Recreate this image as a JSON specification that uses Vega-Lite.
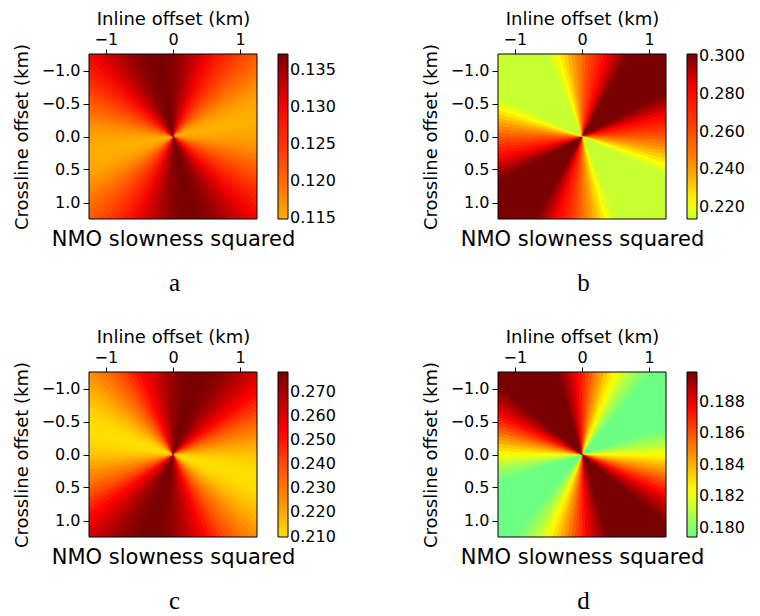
{
"$schema":"https://vega.github.io/schema/vega-lite/v6.json",
"background":"white",
"padding":{"left":13,"top":10,"right":0,"bottom":0},
"config":{
 "view":{"stroke":null},
 "font":"DejaVu Sans",
 "axis":{"grid":false,"domain":false,"labelFont":"DejaVu Sans","titleFont":"DejaVu Sans","labelColor":"black","titleColor":"black","tickColor":"black","titleFontWeight":"normal","labelFontSize":16,"titleFontSize":18},
 "legend":{"gradientLength":165,"gradientThickness":10,"gradientStrokeColor":"black","gradientStrokeWidth":1,"labelFont":"DejaVu Sans","labelFontSize":16,"labelOffset":6,"offset":21,"padding":0,"labelColor":"black","labelOverlap":false},
 "title":{"font":"Liberation Serif","fontSize":25,"fontWeight":"normal","color":"black","anchor":"middle","frame":"bounds","orient":"bottom","offset":22}
},
"datasets":{
"a":[
{"az":0,"az2":2.5,"v":0.1361},{"az":2.5,"az2":5,"v":0.1356},{"az":5,"az2":7.5,"v":0.1351},{"az":7.5,"az2":10,"v":0.1345},{"az":10,"az2":12.5,"v":0.1338},{"az":12.5,"az2":15,"v":0.1331},{"az":15,"az2":17.5,"v":0.1324},{"az":17.5,"az2":20,"v":0.1316},{"az":20,"az2":22.5,"v":0.1307},{"az":22.5,"az2":25,"v":0.1298},{"az":25,"az2":27.5,"v":0.1289},{"az":27.5,"az2":30,"v":0.1279},{"az":30,"az2":32.5,"v":0.1270},{"az":32.5,"az2":35,"v":0.1260},{"az":35,"az2":37.5,"v":0.1250},{"az":37.5,"az2":40,"v":0.1241},{"az":40,"az2":42.5,"v":0.1231},{"az":42.5,"az2":45,"v":0.1222},{"az":45,"az2":47.5,"v":0.1213},{"az":47.5,"az2":50,"v":0.1205},{"az":50,"az2":52.5,"v":0.1196},{"az":52.5,"az2":55,"v":0.1189},{"az":55,"az2":57.5,"v":0.1182},{"az":57.5,"az2":60,"v":0.1175},{"az":60,"az2":62.5,"v":0.1169},{"az":62.5,"az2":65,"v":0.1164},{"az":65,"az2":67.5,"v":0.1159},{"az":67.5,"az2":70,"v":0.1156},{"az":70,"az2":72.5,"v":0.1153},{"az":72.5,"az2":75,"v":0.1151},{"az":75,"az2":77.5,"v":0.1149},{"az":77.5,"az2":80,"v":0.1149},{"az":80,"az2":82.5,"v":0.1149},{"az":82.5,"az2":85,"v":0.1151},{"az":85,"az2":87.5,"v":0.1153},{"az":87.5,"az2":90,"v":0.1156},{"az":90,"az2":92.5,"v":0.1159},{"az":92.5,"az2":95,"v":0.1164},{"az":95,"az2":97.5,"v":0.1169},{"az":97.5,"az2":100,"v":0.1175},{"az":100,"az2":102.5,"v":0.1182},{"az":102.5,"az2":105,"v":0.1189},{"az":105,"az2":107.5,"v":0.1196},{"az":107.5,"az2":110,"v":0.1205},{"az":110,"az2":112.5,"v":0.1213},{"az":112.5,"az2":115,"v":0.1222},{"az":115,"az2":117.5,"v":0.1231},{"az":117.5,"az2":120,"v":0.1241},{"az":120,"az2":122.5,"v":0.1250},{"az":122.5,"az2":125,"v":0.1260},{"az":125,"az2":127.5,"v":0.1270},{"az":127.5,"az2":130,"v":0.1279},{"az":130,"az2":132.5,"v":0.1289},{"az":132.5,"az2":135,"v":0.1298},{"az":135,"az2":137.5,"v":0.1307},{"az":137.5,"az2":140,"v":0.1316},{"az":140,"az2":142.5,"v":0.1324},{"az":142.5,"az2":145,"v":0.1331},{"az":145,"az2":147.5,"v":0.1338},{"az":147.5,"az2":150,"v":0.1345},{"az":150,"az2":152.5,"v":0.1351},{"az":152.5,"az2":155,"v":0.1356},{"az":155,"az2":157.5,"v":0.1361},{"az":157.5,"az2":160,"v":0.1364},{"az":160,"az2":162.5,"v":0.1367},{"az":162.5,"az2":165,"v":0.1369},{"az":165,"az2":167.5,"v":0.1371},{"az":167.5,"az2":170,"v":0.1371},{"az":170,"az2":172.5,"v":0.1371},{"az":172.5,"az2":175,"v":0.1369},{"az":175,"az2":177.5,"v":0.1367},{"az":177.5,"az2":180,"v":0.1364},
{"az":180,"az2":182.5,"v":0.1361},{"az":182.5,"az2":185,"v":0.1356},{"az":185,"az2":187.5,"v":0.1351},{"az":187.5,"az2":190,"v":0.1345},{"az":190,"az2":192.5,"v":0.1338},{"az":192.5,"az2":195,"v":0.1331},{"az":195,"az2":197.5,"v":0.1324},{"az":197.5,"az2":200,"v":0.1316},{"az":200,"az2":202.5,"v":0.1307},{"az":202.5,"az2":205,"v":0.1298},{"az":205,"az2":207.5,"v":0.1289},{"az":207.5,"az2":210,"v":0.1279},{"az":210,"az2":212.5,"v":0.1270},{"az":212.5,"az2":215,"v":0.1260},{"az":215,"az2":217.5,"v":0.1250},{"az":217.5,"az2":220,"v":0.1241},{"az":220,"az2":222.5,"v":0.1231},{"az":222.5,"az2":225,"v":0.1222},{"az":225,"az2":227.5,"v":0.1213},{"az":227.5,"az2":230,"v":0.1205},{"az":230,"az2":232.5,"v":0.1196},{"az":232.5,"az2":235,"v":0.1189},{"az":235,"az2":237.5,"v":0.1182},{"az":237.5,"az2":240,"v":0.1175},{"az":240,"az2":242.5,"v":0.1169},{"az":242.5,"az2":245,"v":0.1164},{"az":245,"az2":247.5,"v":0.1159},{"az":247.5,"az2":250,"v":0.1156},{"az":250,"az2":252.5,"v":0.1153},{"az":252.5,"az2":255,"v":0.1151},{"az":255,"az2":257.5,"v":0.1149},{"az":257.5,"az2":260,"v":0.1149},{"az":260,"az2":262.5,"v":0.1149},{"az":262.5,"az2":265,"v":0.1151},{"az":265,"az2":267.5,"v":0.1153},{"az":267.5,"az2":270,"v":0.1156},{"az":270,"az2":272.5,"v":0.1159},{"az":272.5,"az2":275,"v":0.1164},{"az":275,"az2":277.5,"v":0.1169},{"az":277.5,"az2":280,"v":0.1175},{"az":280,"az2":282.5,"v":0.1182},{"az":282.5,"az2":285,"v":0.1189},{"az":285,"az2":287.5,"v":0.1196},{"az":287.5,"az2":290,"v":0.1205},{"az":290,"az2":292.5,"v":0.1213},{"az":292.5,"az2":295,"v":0.1222},{"az":295,"az2":297.5,"v":0.1231},{"az":297.5,"az2":300,"v":0.1241},{"az":300,"az2":302.5,"v":0.1250},{"az":302.5,"az2":305,"v":0.1260},{"az":305,"az2":307.5,"v":0.1270},{"az":307.5,"az2":310,"v":0.1279},{"az":310,"az2":312.5,"v":0.1289},{"az":312.5,"az2":315,"v":0.1298},{"az":315,"az2":317.5,"v":0.1307},{"az":317.5,"az2":320,"v":0.1316},{"az":320,"az2":322.5,"v":0.1324},{"az":322.5,"az2":325,"v":0.1331},{"az":325,"az2":327.5,"v":0.1338},{"az":327.5,"az2":330,"v":0.1345},{"az":330,"az2":332.5,"v":0.1351},{"az":332.5,"az2":335,"v":0.1356},{"az":335,"az2":337.5,"v":0.1361},{"az":337.5,"az2":340,"v":0.1364},{"az":340,"az2":342.5,"v":0.1367},{"az":342.5,"az2":345,"v":0.1369},{"az":345,"az2":347.5,"v":0.1371},{"az":347.5,"az2":350,"v":0.1371},{"az":350,"az2":352.5,"v":0.1371},{"az":352.5,"az2":355,"v":0.1369},{"az":355,"az2":357.5,"v":0.1367},{"az":357.5,"az2":360,"v":0.1364}
],
"b":[
{"az":0,"az2":2.5,"v":0.2543},{"az":2.5,"az2":5,"v":0.2591},{"az":5,"az2":7.5,"v":0.2638},{"az":7.5,"az2":10,"v":0.2685},{"az":10,"az2":12.5,"v":0.2731},{"az":12.5,"az2":15,"v":0.2775},{"az":15,"az2":17.5,"v":0.2818},{"az":17.5,"az2":20,"v":0.2858},{"az":20,"az2":22.5,"v":0.2896},{"az":22.5,"az2":25,"v":0.2931},{"az":25,"az2":27.5,"v":0.2964},{"az":27.5,"az2":30,"v":0.2993},{"az":30,"az2":32.5,"v":0.3013},{"az":32.5,"az2":35,"v":0.3013},{"az":35,"az2":37.5,"v":0.3013},{"az":37.5,"az2":40,"v":0.3013},{"az":40,"az2":42.5,"v":0.3013},{"az":42.5,"az2":45,"v":0.3013},{"az":45,"az2":47.5,"v":0.3013},{"az":47.5,"az2":50,"v":0.3013},{"az":50,"az2":52.5,"v":0.3013},{"az":52.5,"az2":55,"v":0.3013},{"az":55,"az2":57.5,"v":0.3013},{"az":57.5,"az2":60,"v":0.3013},{"az":60,"az2":62.5,"v":0.3013},{"az":62.5,"az2":65,"v":0.2993},{"az":65,"az2":67.5,"v":0.2964},{"az":67.5,"az2":70,"v":0.2931},{"az":70,"az2":72.5,"v":0.2896},{"az":72.5,"az2":75,"v":0.2858},{"az":75,"az2":77.5,"v":0.2818},{"az":77.5,"az2":80,"v":0.2775},{"az":80,"az2":82.5,"v":0.2731},{"az":82.5,"az2":85,"v":0.2685},{"az":85,"az2":87.5,"v":0.2638},{"az":87.5,"az2":90,"v":0.2591},{"az":90,"az2":92.5,"v":0.2543},{"az":92.5,"az2":95,"v":0.2495},{"az":95,"az2":97.5,"v":0.2448},{"az":97.5,"az2":100,"v":0.2401},{"az":100,"az2":102.5,"v":0.2355},{"az":102.5,"az2":105,"v":0.2311},{"az":105,"az2":107.5,"v":0.2269},{"az":107.5,"az2":110,"v":0.2228},{"az":110,"az2":112.5,"v":0.2190},{"az":112.5,"az2":115,"v":0.2155},{"az":115,"az2":117.5,"v":0.2137},{"az":117.5,"az2":120,"v":0.2137},{"az":120,"az2":122.5,"v":0.2137},{"az":122.5,"az2":125,"v":0.2137},{"az":125,"az2":127.5,"v":0.2137},{"az":127.5,"az2":130,"v":0.2137},{"az":130,"az2":132.5,"v":0.2137},{"az":132.5,"az2":135,"v":0.2137},{"az":135,"az2":137.5,"v":0.2137},{"az":137.5,"az2":140,"v":0.2137},{"az":140,"az2":142.5,"v":0.2137},{"az":142.5,"az2":145,"v":0.2137},{"az":145,"az2":147.5,"v":0.2137},{"az":147.5,"az2":150,"v":0.2137},{"az":150,"az2":152.5,"v":0.2137},{"az":152.5,"az2":155,"v":0.2137},{"az":155,"az2":157.5,"v":0.2137},{"az":157.5,"az2":160,"v":0.2155},{"az":160,"az2":162.5,"v":0.2190},{"az":162.5,"az2":165,"v":0.2228},{"az":165,"az2":167.5,"v":0.2269},{"az":167.5,"az2":170,"v":0.2311},{"az":170,"az2":172.5,"v":0.2355},{"az":172.5,"az2":175,"v":0.2401},{"az":175,"az2":177.5,"v":0.2448},{"az":177.5,"az2":180,"v":0.2495},
{"az":180,"az2":182.5,"v":0.2543},{"az":182.5,"az2":185,"v":0.2591},{"az":185,"az2":187.5,"v":0.2638},{"az":187.5,"az2":190,"v":0.2685},{"az":190,"az2":192.5,"v":0.2731},{"az":192.5,"az2":195,"v":0.2775},{"az":195,"az2":197.5,"v":0.2818},{"az":197.5,"az2":200,"v":0.2858},{"az":200,"az2":202.5,"v":0.2896},{"az":202.5,"az2":205,"v":0.2931},{"az":205,"az2":207.5,"v":0.2964},{"az":207.5,"az2":210,"v":0.2993},{"az":210,"az2":212.5,"v":0.3013},{"az":212.5,"az2":215,"v":0.3013},{"az":215,"az2":217.5,"v":0.3013},{"az":217.5,"az2":220,"v":0.3013},{"az":220,"az2":222.5,"v":0.3013},{"az":222.5,"az2":225,"v":0.3013},{"az":225,"az2":227.5,"v":0.3013},{"az":227.5,"az2":230,"v":0.3013},{"az":230,"az2":232.5,"v":0.3013},{"az":232.5,"az2":235,"v":0.3013},{"az":235,"az2":237.5,"v":0.3013},{"az":237.5,"az2":240,"v":0.3013},{"az":240,"az2":242.5,"v":0.3013},{"az":242.5,"az2":245,"v":0.2993},{"az":245,"az2":247.5,"v":0.2964},{"az":247.5,"az2":250,"v":0.2931},{"az":250,"az2":252.5,"v":0.2896},{"az":252.5,"az2":255,"v":0.2858},{"az":255,"az2":257.5,"v":0.2818},{"az":257.5,"az2":260,"v":0.2775},{"az":260,"az2":262.5,"v":0.2731},{"az":262.5,"az2":265,"v":0.2685},{"az":265,"az2":267.5,"v":0.2638},{"az":267.5,"az2":270,"v":0.2591},{"az":270,"az2":272.5,"v":0.2543},{"az":272.5,"az2":275,"v":0.2495},{"az":275,"az2":277.5,"v":0.2448},{"az":277.5,"az2":280,"v":0.2401},{"az":280,"az2":282.5,"v":0.2355},{"az":282.5,"az2":285,"v":0.2311},{"az":285,"az2":287.5,"v":0.2269},{"az":287.5,"az2":290,"v":0.2228},{"az":290,"az2":292.5,"v":0.2190},{"az":292.5,"az2":295,"v":0.2155},{"az":295,"az2":297.5,"v":0.2137},{"az":297.5,"az2":300,"v":0.2137},{"az":300,"az2":302.5,"v":0.2137},{"az":302.5,"az2":305,"v":0.2137},{"az":305,"az2":307.5,"v":0.2137},{"az":307.5,"az2":310,"v":0.2137},{"az":310,"az2":312.5,"v":0.2137},{"az":312.5,"az2":315,"v":0.2137},{"az":315,"az2":317.5,"v":0.2137},{"az":317.5,"az2":320,"v":0.2137},{"az":320,"az2":322.5,"v":0.2137},{"az":322.5,"az2":325,"v":0.2137},{"az":325,"az2":327.5,"v":0.2137},{"az":327.5,"az2":330,"v":0.2137},{"az":330,"az2":332.5,"v":0.2137},{"az":332.5,"az2":335,"v":0.2137},{"az":335,"az2":337.5,"v":0.2137},{"az":337.5,"az2":340,"v":0.2155},{"az":340,"az2":342.5,"v":0.2190},{"az":342.5,"az2":345,"v":0.2228},{"az":345,"az2":347.5,"v":0.2269},{"az":347.5,"az2":350,"v":0.2311},{"az":350,"az2":352.5,"v":0.2355},{"az":352.5,"az2":355,"v":0.2401},{"az":355,"az2":357.5,"v":0.2448},{"az":357.5,"az2":360,"v":0.2495}
],
"c":[
{"az":0,"az2":2.5,"v":0.2738},{"az":2.5,"az2":5,"v":0.2752},{"az":5,"az2":7.5,"v":0.2763},{"az":7.5,"az2":10,"v":0.2772},{"az":10,"az2":12.5,"v":0.2779},{"az":12.5,"az2":15,"v":0.2783},{"az":15,"az2":17.5,"v":0.2784},{"az":17.5,"az2":20,"v":0.2783},{"az":20,"az2":22.5,"v":0.2779},{"az":22.5,"az2":25,"v":0.2772},{"az":25,"az2":27.5,"v":0.2763},{"az":27.5,"az2":30,"v":0.2752},{"az":30,"az2":32.5,"v":0.2738},{"az":32.5,"az2":35,"v":0.2722},{"az":35,"az2":37.5,"v":0.2704},{"az":37.5,"az2":40,"v":0.2684},{"az":40,"az2":42.5,"v":0.2662},{"az":42.5,"az2":45,"v":0.2638},{"az":45,"az2":47.5,"v":0.2613},{"az":47.5,"az2":50,"v":0.2587},{"az":50,"az2":52.5,"v":0.2559},{"az":52.5,"az2":55,"v":0.2531},{"az":55,"az2":57.5,"v":0.2501},{"az":57.5,"az2":60,"v":0.2472},{"az":60,"az2":62.5,"v":0.2442},{"az":62.5,"az2":65,"v":0.2412},{"az":65,"az2":67.5,"v":0.2383},{"az":67.5,"az2":70,"v":0.2353},{"az":70,"az2":72.5,"v":0.2325},{"az":72.5,"az2":75,"v":0.2297},{"az":75,"az2":77.5,"v":0.2271},{"az":77.5,"az2":80,"v":0.2246},{"az":80,"az2":82.5,"v":0.2222},{"az":82.5,"az2":85,"v":0.2200},{"az":85,"az2":87.5,"v":0.2180},{"az":87.5,"az2":90,"v":0.2162},{"az":90,"az2":92.5,"v":0.2146},{"az":92.5,"az2":95,"v":0.2132},{"az":95,"az2":97.5,"v":0.2121},{"az":97.5,"az2":100,"v":0.2112},{"az":100,"az2":102.5,"v":0.2105},{"az":102.5,"az2":105,"v":0.2101},{"az":105,"az2":107.5,"v":0.2100},{"az":107.5,"az2":110,"v":0.2101},{"az":110,"az2":112.5,"v":0.2105},{"az":112.5,"az2":115,"v":0.2112},{"az":115,"az2":117.5,"v":0.2121},{"az":117.5,"az2":120,"v":0.2132},{"az":120,"az2":122.5,"v":0.2146},{"az":122.5,"az2":125,"v":0.2162},{"az":125,"az2":127.5,"v":0.2180},{"az":127.5,"az2":130,"v":0.2200},{"az":130,"az2":132.5,"v":0.2222},{"az":132.5,"az2":135,"v":0.2246},{"az":135,"az2":137.5,"v":0.2271},{"az":137.5,"az2":140,"v":0.2297},{"az":140,"az2":142.5,"v":0.2325},{"az":142.5,"az2":145,"v":0.2353},{"az":145,"az2":147.5,"v":0.2383},{"az":147.5,"az2":150,"v":0.2412},{"az":150,"az2":152.5,"v":0.2442},{"az":152.5,"az2":155,"v":0.2472},{"az":155,"az2":157.5,"v":0.2501},{"az":157.5,"az2":160,"v":0.2531},{"az":160,"az2":162.5,"v":0.2559},{"az":162.5,"az2":165,"v":0.2587},{"az":165,"az2":167.5,"v":0.2613},{"az":167.5,"az2":170,"v":0.2638},{"az":170,"az2":172.5,"v":0.2662},{"az":172.5,"az2":175,"v":0.2684},{"az":175,"az2":177.5,"v":0.2704},{"az":177.5,"az2":180,"v":0.2722},
{"az":180,"az2":182.5,"v":0.2738},{"az":182.5,"az2":185,"v":0.2752},{"az":185,"az2":187.5,"v":0.2763},{"az":187.5,"az2":190,"v":0.2772},{"az":190,"az2":192.5,"v":0.2779},{"az":192.5,"az2":195,"v":0.2783},{"az":195,"az2":197.5,"v":0.2784},{"az":197.5,"az2":200,"v":0.2783},{"az":200,"az2":202.5,"v":0.2779},{"az":202.5,"az2":205,"v":0.2772},{"az":205,"az2":207.5,"v":0.2763},{"az":207.5,"az2":210,"v":0.2752},{"az":210,"az2":212.5,"v":0.2738},{"az":212.5,"az2":215,"v":0.2722},{"az":215,"az2":217.5,"v":0.2704},{"az":217.5,"az2":220,"v":0.2684},{"az":220,"az2":222.5,"v":0.2662},{"az":222.5,"az2":225,"v":0.2638},{"az":225,"az2":227.5,"v":0.2613},{"az":227.5,"az2":230,"v":0.2587},{"az":230,"az2":232.5,"v":0.2559},{"az":232.5,"az2":235,"v":0.2531},{"az":235,"az2":237.5,"v":0.2501},{"az":237.5,"az2":240,"v":0.2472},{"az":240,"az2":242.5,"v":0.2442},{"az":242.5,"az2":245,"v":0.2412},{"az":245,"az2":247.5,"v":0.2383},{"az":247.5,"az2":250,"v":0.2353},{"az":250,"az2":252.5,"v":0.2325},{"az":252.5,"az2":255,"v":0.2297},{"az":255,"az2":257.5,"v":0.2271},{"az":257.5,"az2":260,"v":0.2246},{"az":260,"az2":262.5,"v":0.2222},{"az":262.5,"az2":265,"v":0.2200},{"az":265,"az2":267.5,"v":0.2180},{"az":267.5,"az2":270,"v":0.2162},{"az":270,"az2":272.5,"v":0.2146},{"az":272.5,"az2":275,"v":0.2132},{"az":275,"az2":277.5,"v":0.2121},{"az":277.5,"az2":280,"v":0.2112},{"az":280,"az2":282.5,"v":0.2105},{"az":282.5,"az2":285,"v":0.2101},{"az":285,"az2":287.5,"v":0.2100},{"az":287.5,"az2":290,"v":0.2101},{"az":290,"az2":292.5,"v":0.2105},{"az":292.5,"az2":295,"v":0.2112},{"az":295,"az2":297.5,"v":0.2121},{"az":297.5,"az2":300,"v":0.2132},{"az":300,"az2":302.5,"v":0.2146},{"az":302.5,"az2":305,"v":0.2162},{"az":305,"az2":307.5,"v":0.2180},{"az":307.5,"az2":310,"v":0.2200},{"az":310,"az2":312.5,"v":0.2222},{"az":312.5,"az2":315,"v":0.2246},{"az":315,"az2":317.5,"v":0.2271},{"az":317.5,"az2":320,"v":0.2297},{"az":320,"az2":322.5,"v":0.2325},{"az":322.5,"az2":325,"v":0.2353},{"az":325,"az2":327.5,"v":0.2383},{"az":327.5,"az2":330,"v":0.2412},{"az":330,"az2":332.5,"v":0.2442},{"az":332.5,"az2":335,"v":0.2472},{"az":335,"az2":337.5,"v":0.2501},{"az":337.5,"az2":340,"v":0.2531},{"az":340,"az2":342.5,"v":0.2559},{"az":342.5,"az2":345,"v":0.2587},{"az":345,"az2":347.5,"v":0.2613},{"az":347.5,"az2":350,"v":0.2638},{"az":350,"az2":352.5,"v":0.2662},{"az":352.5,"az2":355,"v":0.2684},{"az":355,"az2":357.5,"v":0.2704},{"az":357.5,"az2":360,"v":0.2722}
],
"d":[
{"az":0,"az2":2.5,"v":0.1868},{"az":2.5,"az2":5,"v":0.1863},{"az":5,"az2":7.5,"v":0.1858},{"az":7.5,"az2":10,"v":0.1852},{"az":10,"az2":12.5,"v":0.1847},{"az":12.5,"az2":15,"v":0.1842},{"az":15,"az2":17.5,"v":0.1836},{"az":17.5,"az2":20,"v":0.1831},{"az":20,"az2":22.5,"v":0.1826},{"az":22.5,"az2":25,"v":0.1821},{"az":25,"az2":27.5,"v":0.1816},{"az":27.5,"az2":30,"v":0.1811},{"az":30,"az2":32.5,"v":0.1807},{"az":32.5,"az2":35,"v":0.1803},{"az":35,"az2":37.5,"v":0.1800},{"az":37.5,"az2":40,"v":0.1796},{"az":40,"az2":42.5,"v":0.1794},{"az":42.5,"az2":45,"v":0.1794},{"az":45,"az2":47.5,"v":0.1794},{"az":47.5,"az2":50,"v":0.1794},{"az":50,"az2":52.5,"v":0.1794},{"az":52.5,"az2":55,"v":0.1794},{"az":55,"az2":57.5,"v":0.1794},{"az":57.5,"az2":60,"v":0.1794},{"az":60,"az2":62.5,"v":0.1794},{"az":62.5,"az2":65,"v":0.1794},{"az":65,"az2":67.5,"v":0.1794},{"az":67.5,"az2":70,"v":0.1794},{"az":70,"az2":72.5,"v":0.1794},{"az":72.5,"az2":75,"v":0.1796},{"az":75,"az2":77.5,"v":0.1800},{"az":77.5,"az2":80,"v":0.1803},{"az":80,"az2":82.5,"v":0.1807},{"az":82.5,"az2":85,"v":0.1811},{"az":85,"az2":87.5,"v":0.1816},{"az":87.5,"az2":90,"v":0.1821},{"az":90,"az2":92.5,"v":0.1826},{"az":92.5,"az2":95,"v":0.1831},{"az":95,"az2":97.5,"v":0.1836},{"az":97.5,"az2":100,"v":0.1842},{"az":100,"az2":102.5,"v":0.1847},{"az":102.5,"az2":105,"v":0.1852},{"az":105,"az2":107.5,"v":0.1858},{"az":107.5,"az2":110,"v":0.1863},{"az":110,"az2":112.5,"v":0.1868},{"az":112.5,"az2":115,"v":0.1873},{"az":115,"az2":117.5,"v":0.1878},{"az":117.5,"az2":120,"v":0.1883},{"az":120,"az2":122.5,"v":0.1887},{"az":122.5,"az2":125,"v":0.1891},{"az":125,"az2":127.5,"v":0.1894},{"az":127.5,"az2":130,"v":0.1898},{"az":130,"az2":132.5,"v":0.1899},{"az":132.5,"az2":135,"v":0.1899},{"az":135,"az2":137.5,"v":0.1899},{"az":137.5,"az2":140,"v":0.1899},{"az":140,"az2":142.5,"v":0.1899},{"az":142.5,"az2":145,"v":0.1899},{"az":145,"az2":147.5,"v":0.1899},{"az":147.5,"az2":150,"v":0.1899},{"az":150,"az2":152.5,"v":0.1899},{"az":152.5,"az2":155,"v":0.1899},{"az":155,"az2":157.5,"v":0.1899},{"az":157.5,"az2":160,"v":0.1899},{"az":160,"az2":162.5,"v":0.1899},{"az":162.5,"az2":165,"v":0.1898},{"az":165,"az2":167.5,"v":0.1894},{"az":167.5,"az2":170,"v":0.1891},{"az":170,"az2":172.5,"v":0.1887},{"az":172.5,"az2":175,"v":0.1883},{"az":175,"az2":177.5,"v":0.1878},{"az":177.5,"az2":180,"v":0.1873},
{"az":180,"az2":182.5,"v":0.1868},{"az":182.5,"az2":185,"v":0.1863},{"az":185,"az2":187.5,"v":0.1858},{"az":187.5,"az2":190,"v":0.1852},{"az":190,"az2":192.5,"v":0.1847},{"az":192.5,"az2":195,"v":0.1842},{"az":195,"az2":197.5,"v":0.1836},{"az":197.5,"az2":200,"v":0.1831},{"az":200,"az2":202.5,"v":0.1826},{"az":202.5,"az2":205,"v":0.1821},{"az":205,"az2":207.5,"v":0.1816},{"az":207.5,"az2":210,"v":0.1811},{"az":210,"az2":212.5,"v":0.1807},{"az":212.5,"az2":215,"v":0.1803},{"az":215,"az2":217.5,"v":0.1800},{"az":217.5,"az2":220,"v":0.1796},{"az":220,"az2":222.5,"v":0.1794},{"az":222.5,"az2":225,"v":0.1794},{"az":225,"az2":227.5,"v":0.1794},{"az":227.5,"az2":230,"v":0.1794},{"az":230,"az2":232.5,"v":0.1794},{"az":232.5,"az2":235,"v":0.1794},{"az":235,"az2":237.5,"v":0.1794},{"az":237.5,"az2":240,"v":0.1794},{"az":240,"az2":242.5,"v":0.1794},{"az":242.5,"az2":245,"v":0.1794},{"az":245,"az2":247.5,"v":0.1794},{"az":247.5,"az2":250,"v":0.1794},{"az":250,"az2":252.5,"v":0.1794},{"az":252.5,"az2":255,"v":0.1796},{"az":255,"az2":257.5,"v":0.1800},{"az":257.5,"az2":260,"v":0.1803},{"az":260,"az2":262.5,"v":0.1807},{"az":262.5,"az2":265,"v":0.1811},{"az":265,"az2":267.5,"v":0.1816},{"az":267.5,"az2":270,"v":0.1821},{"az":270,"az2":272.5,"v":0.1826},{"az":272.5,"az2":275,"v":0.1831},{"az":275,"az2":277.5,"v":0.1836},{"az":277.5,"az2":280,"v":0.1842},{"az":280,"az2":282.5,"v":0.1847},{"az":282.5,"az2":285,"v":0.1852},{"az":285,"az2":287.5,"v":0.1858},{"az":287.5,"az2":290,"v":0.1863},{"az":290,"az2":292.5,"v":0.1868},{"az":292.5,"az2":295,"v":0.1873},{"az":295,"az2":297.5,"v":0.1878},{"az":297.5,"az2":300,"v":0.1883},{"az":300,"az2":302.5,"v":0.1887},{"az":302.5,"az2":305,"v":0.1891},{"az":305,"az2":307.5,"v":0.1894},{"az":307.5,"az2":310,"v":0.1898},{"az":310,"az2":312.5,"v":0.1899},{"az":312.5,"az2":315,"v":0.1899},{"az":315,"az2":317.5,"v":0.1899},{"az":317.5,"az2":320,"v":0.1899},{"az":320,"az2":322.5,"v":0.1899},{"az":322.5,"az2":325,"v":0.1899},{"az":325,"az2":327.5,"v":0.1899},{"az":327.5,"az2":330,"v":0.1899},{"az":330,"az2":332.5,"v":0.1899},{"az":332.5,"az2":335,"v":0.1899},{"az":335,"az2":337.5,"v":0.1899},{"az":337.5,"az2":340,"v":0.1899},{"az":340,"az2":342.5,"v":0.1899},{"az":342.5,"az2":345,"v":0.1898},{"az":345,"az2":347.5,"v":0.1894},{"az":347.5,"az2":350,"v":0.1891},{"az":350,"az2":352.5,"v":0.1887},{"az":352.5,"az2":355,"v":0.1883},{"az":355,"az2":357.5,"v":0.1878},{"az":357.5,"az2":360,"v":0.1873}
],
"frame":[{"x0":-1.25,"x1":1.25,"y0":-1.25,"y1":1.25}]
},
"resolve":{"scale":{"color":"independent","stroke":"independent"},"legend":{"color":"independent"}},
"vconcat":[
{"resolve":{"scale":{"color":"independent","stroke":"independent"},"legend":{"color":"independent"}},
"hconcat":[
{"width":168,"height":165,"title":{"text":"a"},
 "layer":[
  {"data":{"name":"a"},"mark":{"type":"arc","outerRadius":125,"clip":true,"filled":false,"strokeWidth":1.2},
   "encoding":{"theta":{"field":"az","type":"quantitative","scale":{"domain":[0,360]}},"theta2":{"field":"az2"},
    "stroke":{"field":"v","type":"quantitative","scale":{"domain":[0.11479,0.12,0.1255,0.1305,0.1371],"range":["#ffb000","#ff6a00","#ff2e00","#f00000","#780000"],"interpolate":"rgb"},"legend":null}}},
  {"data":{"name":"a"},"mark":{"type":"arc","outerRadius":125,"clip":true},
   "encoding":{"theta":{"field":"az","type":"quantitative","scale":{"domain":[0,360]}},"theta2":{"field":"az2"},
    "color":{"field":"v","type":"quantitative","scale":{"domain":[0.1148,0.12,0.1255,0.1305,0.1371],"range":["#ffb000","#ff6a00","#ff2e00","#f00000","#780000"],"interpolate":"rgb"},"legend":{"title":null,"type":"gradient","values":[0.115,0.12,0.125,0.13,0.135],"format":".3f"}}}},
  {"data":{"name":"frame"},"mark":{"type":"rect","filled":false,"stroke":"black","strokeWidth":1},
   "encoding":{"x":{"field":"x0","type":"quantitative","scale":{"domain":[-1.25,1.25],"nice":false,"zero":false},"axis":{"orient":"top","values":[-1,0,1],"format":"d","title":"Inline offset (km)","tickSize":5,"labelPadding":2,"titlePadding":3}},
    "x2":{"field":"x1"},
    "y":{"field":"y0","type":"quantitative","scale":{"domain":[-1.25,1.25],"nice":false,"zero":false,"reverse":true},"axis":{"values":[-1,-0.5,0,0.5,1],"format":".1f","title":"Crossline offset (km)","tickSize":6,"labelPadding":3,"titlePadding":10}},
    "y2":{"field":"y1"}}},
  {"data":{"name":"frame"},"mark":{"type":"rule","opacity":0},
   "encoding":{"x":{"field":"x0","type":"quantitative","axis":{"orient":"bottom","labels":false,"ticks":false,"title":"NMO slowness squared","titleFontSize":21,"titlePadding":9}}}}
 ],
 "resolve":{"axis":{"x":"independent"}}},
{"width":168,"height":165,"title":{"text":"b"},
 "layer":[
  {"data":{"name":"b"},"mark":{"type":"arc","outerRadius":125,"clip":true,"filled":false,"strokeWidth":1.2},
   "encoding":{"theta":{"field":"az","type":"quantitative","scale":{"domain":[0,360]}},"theta2":{"field":"az2"},
    "stroke":{"field":"v","type":"quantitative","scale":{"domain":[0.21369,0.2225,0.24,0.26,0.283,0.3013],"range":["#c8ff30","#ffff00","#ff9c00","#ff4a00","#ff0000","#780000"],"interpolate":"rgb"},"legend":null}}},
  {"data":{"name":"b"},"mark":{"type":"arc","outerRadius":125,"clip":true},
   "encoding":{"theta":{"field":"az","type":"quantitative","scale":{"domain":[0,360]}},"theta2":{"field":"az2"},
    "color":{"field":"v","type":"quantitative","scale":{"domain":[0.2137,0.2225,0.24,0.26,0.283,0.3013],"range":["#c8ff30","#ffff00","#ff9c00","#ff4a00","#ff0000","#780000"],"interpolate":"rgb"},"legend":{"title":null,"type":"gradient","values":[0.22,0.24,0.26,0.28,0.3],"format":".3f"}}}},
  {"data":{"name":"frame"},"mark":{"type":"rect","filled":false,"stroke":"black","strokeWidth":1},
   "encoding":{"x":{"field":"x0","type":"quantitative","scale":{"domain":[-1.25,1.25],"nice":false,"zero":false},"axis":{"orient":"top","values":[-1,0,1],"format":"d","title":"Inline offset (km)","tickSize":5,"labelPadding":2,"titlePadding":3}},
    "x2":{"field":"x1"},
    "y":{"field":"y0","type":"quantitative","scale":{"domain":[-1.25,1.25],"nice":false,"zero":false,"reverse":true},"axis":{"values":[-1,-0.5,0,0.5,1],"format":".1f","title":"Crossline offset (km)","tickSize":6,"labelPadding":3,"titlePadding":10}},
    "y2":{"field":"y1"}}},
  {"data":{"name":"frame"},"mark":{"type":"rule","opacity":0},
   "encoding":{"x":{"field":"x0","type":"quantitative","axis":{"orient":"bottom","labels":false,"ticks":false,"title":"NMO slowness squared","titleFontSize":21,"titlePadding":9}}}}
 ],
 "resolve":{"axis":{"x":"independent"}}}
],"spacing":86},
{"resolve":{"scale":{"color":"independent","stroke":"independent"},"legend":{"color":"independent"}},
"hconcat":[
{"width":168,"height":165,"title":{"text":"c"},
 "layer":[
  {"data":{"name":"c"},"mark":{"type":"arc","outerRadius":125,"clip":true,"filled":false,"strokeWidth":1.2},
   "encoding":{"theta":{"field":"az","type":"quantitative","scale":{"domain":[0,360]}},"theta2":{"field":"az2"},
    "stroke":{"field":"v","type":"quantitative","scale":{"domain":[0.20979,0.225,0.24,0.254,0.2784],"range":["#ffe000","#ff9000","#ff4c00","#ff0000","#780000"],"interpolate":"rgb"},"legend":null}}},
  {"data":{"name":"c"},"mark":{"type":"arc","outerRadius":125,"clip":true},
   "encoding":{"theta":{"field":"az","type":"quantitative","scale":{"domain":[0,360]}},"theta2":{"field":"az2"},
    "color":{"field":"v","type":"quantitative","scale":{"domain":[0.2098,0.225,0.24,0.254,0.2784],"range":["#ffe000","#ff9000","#ff4c00","#ff0000","#780000"],"interpolate":"rgb"},"legend":{"title":null,"type":"gradient","values":[0.21,0.22,0.23,0.24,0.25,0.26,0.27],"format":".3f"}}}},
  {"data":{"name":"frame"},"mark":{"type":"rect","filled":false,"stroke":"black","strokeWidth":1},
   "encoding":{"x":{"field":"x0","type":"quantitative","scale":{"domain":[-1.25,1.25],"nice":false,"zero":false},"axis":{"orient":"top","values":[-1,0,1],"format":"d","title":"Inline offset (km)","tickSize":5,"labelPadding":2,"titlePadding":3}},
    "x2":{"field":"x1"},
    "y":{"field":"y0","type":"quantitative","scale":{"domain":[-1.25,1.25],"nice":false,"zero":false,"reverse":true},"axis":{"values":[-1,-0.5,0,0.5,1],"format":".1f","title":"Crossline offset (km)","tickSize":6,"labelPadding":3,"titlePadding":10}},
    "y2":{"field":"y1"}}},
  {"data":{"name":"frame"},"mark":{"type":"rule","opacity":0},
   "encoding":{"x":{"field":"x0","type":"quantitative","axis":{"orient":"bottom","labels":false,"ticks":false,"title":"NMO slowness squared","titleFontSize":21,"titlePadding":9}}}}
 ],
 "resolve":{"axis":{"x":"independent"}}},
{"width":168,"height":165,"title":{"text":"d"},
 "layer":[
  {"data":{"name":"d"},"mark":{"type":"arc","outerRadius":125,"clip":true,"filled":false,"strokeWidth":1.2},
   "encoding":{"theta":{"field":"az","type":"quantitative","scale":{"domain":[0,360]}},"theta2":{"field":"az2"},
    "stroke":{"field":"v","type":"quantitative","scale":{"domain":[0.17939,0.181,0.1824,0.1849,0.1877,0.1899],"range":["#6cff84","#b8ff40","#ffff00","#ff8800","#ff0000","#780000"],"interpolate":"rgb"},"legend":null}}},
  {"data":{"name":"d"},"mark":{"type":"arc","outerRadius":125,"clip":true},
   "encoding":{"theta":{"field":"az","type":"quantitative","scale":{"domain":[0,360]}},"theta2":{"field":"az2"},
    "color":{"field":"v","type":"quantitative","scale":{"domain":[0.1794,0.181,0.1824,0.1849,0.1877,0.1899],"range":["#6cff84","#b8ff40","#ffff00","#ff8800","#ff0000","#780000"],"interpolate":"rgb"},"legend":{"title":null,"type":"gradient","values":[0.18,0.182,0.184,0.186,0.188],"format":".3f"}}}},
  {"data":{"name":"frame"},"mark":{"type":"rect","filled":false,"stroke":"black","strokeWidth":1},
   "encoding":{"x":{"field":"x0","type":"quantitative","scale":{"domain":[-1.25,1.25],"nice":false,"zero":false},"axis":{"orient":"top","values":[-1,0,1],"format":"d","title":"Inline offset (km)","tickSize":5,"labelPadding":2,"titlePadding":3}},
    "x2":{"field":"x1"},
    "y":{"field":"y0","type":"quantitative","scale":{"domain":[-1.25,1.25],"nice":false,"zero":false,"reverse":true},"axis":{"values":[-1,-0.5,0,0.5,1],"format":".1f","title":"Crossline offset (km)","tickSize":6,"labelPadding":3,"titlePadding":10}},
    "y2":{"field":"y1"}}},
  {"data":{"name":"frame"},"mark":{"type":"rule","opacity":0},
   "encoding":{"x":{"field":"x0","type":"quantitative","axis":{"orient":"bottom","labels":false,"ticks":false,"title":"NMO slowness squared","titleFontSize":21,"titlePadding":9}}}}
 ],
 "resolve":{"axis":{"x":"independent"}}}
],"spacing":86}
],
"spacing":32
}
